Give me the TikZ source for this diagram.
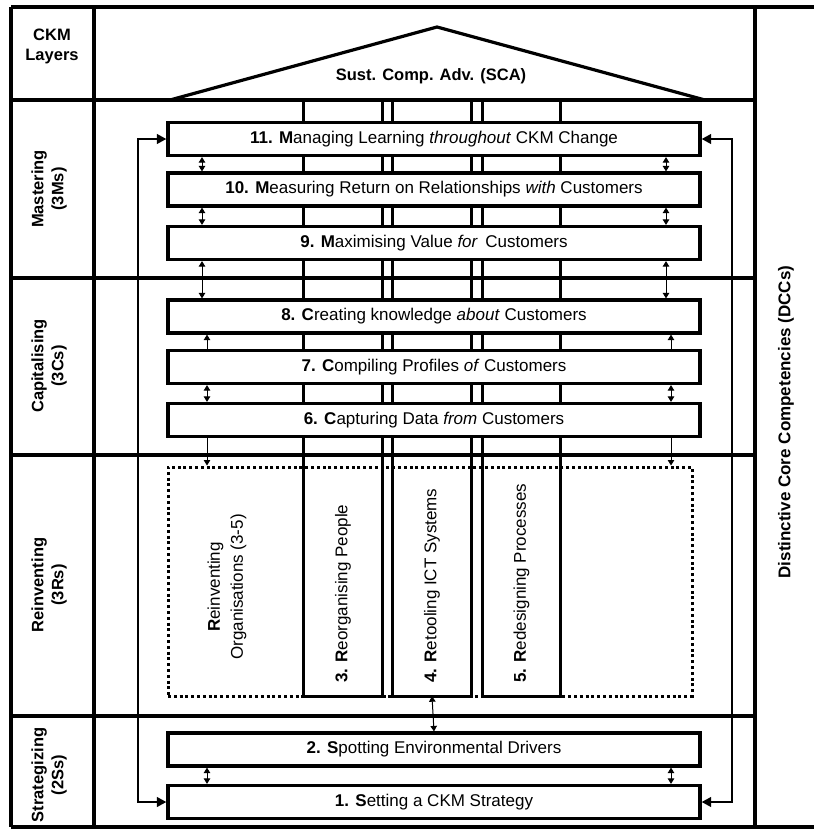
\documentclass[tikz,border=0pt]{standalone}
\usepackage{fontspec}
\setmainfont{Liberation Sans}
\usetikzlibrary{arrows.meta}
\newcommand\ckmtext{\fontsize{17}{21}\selectfont}
\newcommand\ckmhead{\fontsize{16.5}{20}\selectfont\bfseries}
\begin{document}
\begin{tikzpicture}[x=1pt,y=-1pt,
  rule/.style={line width=3.2pt},
  layerbox/.style={draw, line width=3.2pt, fill=white, minimum width=532pt,
    minimum height=33pt, inner sep=0pt, font=\ckmtext},
  headlbl/.style={align=center, inner sep=0pt, font=\ckmhead},
  pillarbox/.style={draw=none, minimum width=78pt, minimum height=229pt, inner sep=0pt},
  pillartext/.style={rotate=90, anchor=west, inner sep=0pt, font=\ckmtext},
  dotbox/.style={draw, line width=3pt, dash pattern=on 3pt off 2.8pt,
    minimum width=524pt, minimum height=229pt, inner sep=0pt},
  link/.style={line width=1pt, >={Triangle[length=5.5pt,width=6.5pt]}},
  fb/.style={line width=2.6pt, >={Triangle[length=9.5pt,width=9.5pt]}},
]
\useasboundingbox (0,0) rectangle (814,830);

% frame of the layer table
\draw[rule] (11,7) -- (814,7);
\draw[rule] (11,827) -- (814,827);
\draw[rule] (11,7) -- (11,827);
\draw[rule] (94,7) -- (94,827);
\draw[rule] (755,7) -- (755,827);
\foreach \yy in {100,278,455,716} \draw[rule] (11,\yy) -- (755,\yy);

% roof
\coordinate (roofbase) at (434,100);
\draw[rule, line join=miter] (170,100) -- (437,27) -- (705,100);
\node[headlbl] (sca) at (431,76) {Sust. Comp. Adv. (SCA)};

% layer labels
\node[headlbl] (ckm) at (52,46) {CKM\\Layers};
\node[headlbl, rotate=90] (mast) at (49,189) {Mastering\\(3Ms)};
\node[headlbl, rotate=90] (capi) at (49,366) {Capitalising\\(3Cs)};
\node[headlbl, rotate=90] (rein) at (49,585) {Reinventing\\(3Rs)};
\node[headlbl, rotate=90] (strat) at (49,775) {Strategizing\\(2Ss)};
\node[headlbl, rotate=90, font=\fontsize{17}{20}\selectfont\bfseries] (dcc) at (786,422) {Distinctive Core Competencies (DCCs)};

% reinventing area and its three pillars
\node[dotbox] (ro) at (430,581.5) {};
\node[pillarbox] (p3) at (343,581.5) {};
\node[pillarbox] (p4) at (432,581.5) {};
\node[pillarbox] (p5) at (521.5,581.5) {};
\foreach \p in {p3,p4,p5}
  \draw[rule, line join=miter] (\p.south west |- roofbase) -- (\p.south west)
    -- (\p.south east) -- (\p.south east |- roofbase);
\node[pillartext] (t3) at (343,683) {\textbf{3. R}eorganising People};
\node[pillartext] (t4) at (432,683) {\textbf{4. R}etooling ICT Systems};
\node[pillartext] (t5) at (521.5,683) {\textbf{5. R}edesigning Processes};
\node[rotate=90, align=center, inner sep=0pt, font=\fontsize{17}{23}\selectfont]
  (rotxt) at (227,587) {\textbf{R}einventing\\Organisations (3-5)};

% CKM layers
\node[layerbox] (b11) at (434,139) {\textbf{11. M}anaging Learning \textit{throughout} CKM Change};
\node[layerbox] (b10) at (434,189.5) {\textbf{10. M}easuring Return on Relationships \textit{with} Customers};
\node[layerbox] (b9) at (434,243) {\textbf{9. M}aximising Value \textit{for}\, Customers};
\node[layerbox] (b8) at (434,316.5) {\textbf{8. C}reating knowledge \textit{about} Customers};
\node[layerbox] (b7) at (434,367) {\textbf{7. C}ompiling Profiles \textit{of} Customers};
\node[layerbox] (b6) at (434,420) {\textbf{6. C}apturing Data \textit{from} Customers};
\node[layerbox] (b2) at (434,749.5) {\textbf{2. S}potting Environmental Drivers};
\node[layerbox] (b1) at (434,802) {\textbf{1. S}etting a CKM Strategy};

% links between layers
\coordinate (cL) at (202,0);
\coordinate (cR) at (666,0);
\coordinate (sL) at (207,0);
\coordinate (sR) at (671,0);
\foreach \c in {cL,cR} {
  \draw[link,<->] (b11.south -| \c) -- (b10.north -| \c);
  \draw[link,<->] (b10.south -| \c) -- (b9.north -| \c);
  \draw[link,<->] (b9.south -| \c) -- (b8.north -| \c);
}
\foreach \c in {sL,sR} {
  \draw[link,->] (b7.north -| \c) -- (b8.south -| \c);
  \draw[link,<->] (b7.south -| \c) -- (b6.north -| \c);
  \draw[link,->] (b6.south -| \c) -- (ro.north -| \c);
  \draw[link,<->] (b2.south -| \c) -- (b1.north -| \c);
}
\draw[link,<->] (p4.south) -- (b2.north);

% feedback loops between strategy and learning
\coordinate (fbL) at (138,470);
\coordinate (fbR) at (732,470);
\draw[fb,<->] (b11.west) -| (fbL) |- (b1.west);
\draw[fb,<->] (b11.east) -| (fbR) |- (b1.east);
\end{tikzpicture}
\end{document}
